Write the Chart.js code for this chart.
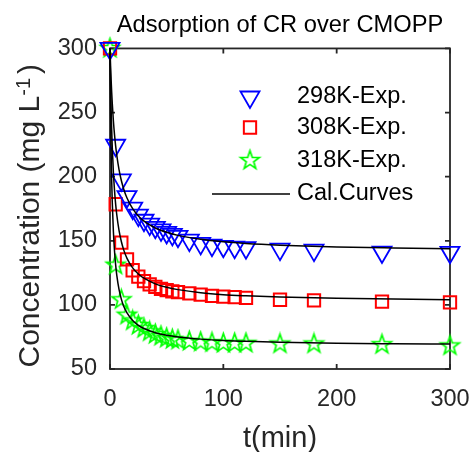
<!DOCTYPE html>
<html><head><meta charset="utf-8">
<script src="https://cdn.jsdelivr.net/npm/chart.js@4.4.0/dist/chart.umd.min.js"></script>
<style>html,body{margin:0;padding:0;background:#fff}#wrap{width:473px;height:452px;position:relative}</style>
</head><body><div id="wrap"><canvas id="c"></canvas></div>
<script>
// ---- data ----
const timeMin = [0,5,10,15,20,25,30,35,40,45,50,55,60,70,80,90,100,110,120,150,180,240,300];
const exp298 = [300,224.5,197.5,184.5,175.5,170,166,163,160.5,158.5,156.5,155,153.5,150.5,148,146.5,145.7,145,144.6,143.5,142.7,141.2,141];
const exp308 = [300,178.5,148.5,135.5,127,122,118.5,116,114,112.5,111.5,110.5,110,109,108,107,106.5,106,105.5,104,103.5,102.5,102];
const exp318 = [300,131,104,92,87.5,84,81.5,79,77,75.5,74,73,72.5,71.5,71,70.5,70,70,70,69.5,69.5,69,68];
const curveTime = [0,0.25,0.5,1,1.5,2,3,4,5,6,8,10,12,15,20,25,30,40,50,60,80,100,120,150,200,250,300];
const cal298 = [300,293.0,286.6,275.3,265.6,257.2,243.4,232.6,223.8,216.6,205.3,197.0,190.6,183.3,175.0,169.4,165.4,160.0,156.6,154.2,151.1,149.2,147.9,146.6,145.2,144.4,143.8];
const cal308 = [300,285.4,272.8,252.2,236.1,223.0,203.3,189.1,178.4,170.1,157.9,149.4,143.1,136.3,128.9,124.1,120.8,116.4,113.7,111.9,109.5,108.0,107.1,106.1,105.1,104.5,104.1];
const cal318 = [300,272.6,251.0,219.0,196.6,180.0,157.0,141.8,131.0,123.0,111.9,104.5,99.2,93.7,87.8,84.1,81.6,78.3,76.3,75.0,73.3,72.2,71.6,70.85,70.1,69.7,69.4];
const seriesLabels = ['298K-Exp.','308K-Exp.','318K-Exp.','Cal.Curves'];
const xTicks = [0,100,200,300];
const yTicks = [50,100,150,200,250,300];
const titleText = 'Adsorption of CR over CMOPP';
const xTitle = 't(min)';
const yTitleParts = ['Concentration (mg L','-1',')'];

const FONT = "'Liberation Sans', Arial, Helvetica, sans-serif";
const AX = '#262626';

function pts(xs, ys){ return xs.map((x,i)=>({x:x, y:ys[i]})); }

function makeStar(R, color, lw){
  const s = Math.ceil(2*R + 2*lw + 2);
  const cv = document.createElement('canvas'); cv.width = s; cv.height = s;
  const g = cv.getContext('2d');
  g.translate(s/2, s/2);
  g.beginPath();
  const r = R*0.4;
  for (let i=0;i<10;i++){
    const rad = (i%2===0?R:r);
    const a = -Math.PI/2 + i*Math.PI/5;
    const px = rad*Math.cos(a), py = rad*Math.sin(a);
    if (i===0) g.moveTo(px,py); else g.lineTo(px,py);
  }
  g.closePath();
  g.strokeStyle = color; g.lineWidth = lw; g.lineJoin='miter';
  g.stroke();
  return cv;
}
const starImg = makeStar(9.8, '#00FF00', 1.7);

const frame = {
  id:'frame',
  beforeDatasetsDraw(chart){
    const {ctx, chartArea:a, scales:{x,y}} = chart;
    ctx.save();
    ctx.strokeStyle = AX; ctx.lineWidth = 1.8;
    ctx.strokeRect(a.left, a.top, a.right-a.left, a.bottom-a.top);
    const L = 5;
    ctx.beginPath();
    x.ticks.forEach(t=>{const p=x.getPixelForValue(t.value);
      ctx.moveTo(p,a.bottom); ctx.lineTo(p,a.bottom-L); ctx.moveTo(p,a.top); ctx.lineTo(p,a.top+L);});
    y.ticks.forEach(t=>{const p=y.getPixelForValue(t.value);
      ctx.moveTo(a.left,p); ctx.lineTo(a.left+L,p); ctx.moveTo(a.right,p); ctx.lineTo(a.right-L,p);});
    ctx.stroke();
    ctx.restore();
  }
};

const yTitle = {
  id:'yTitle',
  afterDraw(chart, args, o){
    const ctx = chart.ctx, a = chart.chartArea;
    ctx.save();
    ctx.fillStyle = AX;
    ctx.textBaseline = 'alphabetic';
    const fMain = o.size + 'px ' + FONT, fSup = o.supSize + 'px ' + FONT;
    ctx.font = fMain; const w0 = ctx.measureText(yTitleParts[0]).width, w2 = ctx.measureText(yTitleParts[2]).width;
    ctx.font = fSup; const w1 = ctx.measureText(yTitleParts[1]).width;
    const total = w0 + w1 + o.gap + w2;
    const cy = (a.top + a.bottom)/2 + o.shift;
    ctx.translate(o.x, cy);
    ctx.rotate(-Math.PI/2);
    let sx = -total/2;
    ctx.font = fMain; ctx.fillText(yTitleParts[0], sx, 0); sx += w0;
    ctx.font = fSup; ctx.fillText(yTitleParts[1], sx, -o.raise); sx += w1 + o.gap;
    ctx.font = fMain; ctx.fillText(yTitleParts[2], sx, 0);
    ctx.restore();
  }
};

const legendBox = {
  id:'legendBox',
  afterDraw(chart, args, o){
    const ctx = chart.ctx;
    const ds = chart.data.datasets.filter(d=>!d.hideInLegend);
    ctx.save();
    ctx.font = o.size + 'px ' + FONT;
    ds.forEach((d,i)=>{
      const yy = o.rows[i];
      ctx.strokeStyle = d.borderColor; ctx.lineWidth = d.borderWidth;
      ctx.fillStyle = 'rgba(0,0,0,0)';
      if (d.showLine && d.pointRadius === 0){
        ctx.beginPath(); ctx.moveTo(o.lineX0, yy); ctx.lineTo(o.lineX1, yy); ctx.stroke();
      } else {
        Chart.helpers.drawPoint(ctx, {pointStyle:d.pointStyle, rotation:d.rotation||0, radius:d.pointRadius, borderWidth:d.borderWidth}, o.markX, yy);
      }
      ctx.fillStyle = '#000';
      ctx.textBaseline = 'middle';
      ctx.fillText(d.label, o.textX, yy);
    });
    ctx.restore();
  }
};

new Chart(document.getElementById('c'), {
  type:'scatter',
  data:{
    datasets:[
      {label:seriesLabels[0], data:pts(timeMin,exp298), pointStyle:'triangle', rotation:180, pointRadius:11, borderColor:'#0000FF', backgroundColor:'rgba(0,0,0,0)', borderWidth:1.8, order:2},
      {label:seriesLabels[1], data:pts(timeMin,exp308), pointStyle:'rect', pointRadius:8.7, borderColor:'#FF0000', backgroundColor:'rgba(0,0,0,0)', borderWidth:2, order:2},
      {label:seriesLabels[2], data:pts(timeMin,exp318), pointStyle:starImg, pointRadius:10, borderColor:'#00FF00', backgroundColor:'rgba(0,0,0,0)', borderWidth:1.7, order:2},
      {label:seriesLabels[3], data:pts(curveTime,cal298), showLine:true, pointRadius:0, borderColor:'#000', borderWidth:1.5, cubicInterpolationMode:'monotone', order:1},
      {label:seriesLabels[3], hideInLegend:true, data:pts(curveTime,cal308), showLine:true, pointRadius:0, borderColor:'#000', borderWidth:1.5, cubicInterpolationMode:'monotone', order:1},
      {label:seriesLabels[3], hideInLegend:true, data:pts(curveTime,cal318), showLine:true, pointRadius:0, borderColor:'#000', borderWidth:1.5, cubicInterpolationMode:'monotone', order:1}
    ]
  },
  options:{
    responsive:true, maintainAspectRatio:false, animation:false, events:[],
    clip:false,
    layout:{padding:{left:0,right:23,top:0,bottom:0}},
    scales:{
      x:{type:'linear', min:0, max:300,
         afterBuildTicks(s){ s.ticks = xTicks.map(v=>({value:v})); },
         afterFit(s){ s.height = 83; s.paddingLeft = 0; s.paddingRight = 0; },
         grid:{display:false, drawTicks:false}, border:{display:false},
         ticks:{padding:16, color:AX, font:{family:FONT, size:23.5}},
         title:{display:true, text:xTitle, color:AX, font:{family:FONT, size:29}, padding:{top:0,bottom:-4}}
      },
      y:{type:'linear', min:50, max:300,
         afterBuildTicks(s){ s.ticks = yTicks.map(v=>({value:v})); },
         afterFit(s){ s.width = 110; s.paddingTop = 0; s.paddingBottom = 0; },
         grid:{display:false, drawTicks:false}, border:{display:false},
         ticks:{padding:13, color:AX, font:{family:FONT, size:23.5}}
      }
    },
    plugins:{
      legend:{display:false}, tooltip:{enabled:false},
      title:{display:true, text:titleText, fullSize:false, color:'#000', font:{family:FONT, size:23.7, weight:'normal'}, padding:{top:11.5,bottom:8.5}},
      yTitle:{size:30, supSize:20, raise:9, gap:4, x:39, shift:7},
      legendBox:{size:23.5, markX:250, textX:297, rows:[97,127.5,160.5,194], lineX0:212, lineX1:290}
    }
  },
  plugins:[frame, yTitle, legendBox]
});
</script>
</body></html>
